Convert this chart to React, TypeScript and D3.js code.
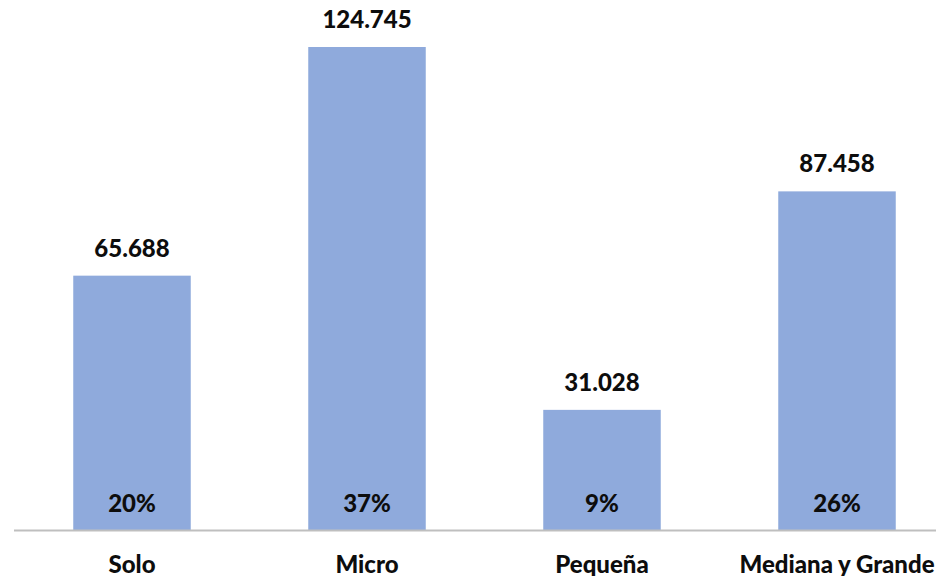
import React from "react";
import * as d3 from "d3";

const categories = ["Solo", "Micro", "Pequeña", "Mediana y Grande"];
const values = [65688, 124745, 31028, 87458];
const valueLabels = ["65.688", "124.745", "31.028", "87.458"];
const shareLabels = ["20%", "37%", "9%", "26%"];

const W = 936;
const H = 576;
const FONT = "Lato, 'Open Sans', sans-serif";

export default function App() {
  const x = d3
    .scaleBand<string>()
    .domain(categories)
    .range([14.5, 954.5])
    .paddingInner(0.5)
    .paddingOuter(0.25);
  const y = d3.scaleLinear().domain([0, 124745]).range([530, 47]);

  return (
    <svg
      width={W}
      height={H}
      style={{ position: "absolute", left: 0, top: 0, display: "block", background: "#fff" }}
    >
      {categories.map((c, i) => {
        const bx = x(c)!;
        const bw = x.bandwidth();
        const cx = bx + bw / 2;
        return (
          <g key={c}>
            <rect x={bx} y={y(values[i])} width={bw} height={y(0) - y(values[i])} fill="#8FAADC" />
            <text
              x={cx}
              y={y(values[i]) - 19}
              textAnchor="middle"
              fontFamily={FONT}
              fontWeight={900}
              fontSize={24}
              fill="#0d0d0d"
            >
              {valueLabels[i]}
            </text>
            <text
              x={cx}
              y={512}
              textAnchor="middle"
              fontFamily={FONT}
              fontWeight={900}
              fontSize={24}
              fill="#0d0d0d"
            >
              {shareLabels[i]}
            </text>
            <text
              x={cx}
              y={573}
              textAnchor="middle"
              fontFamily={FONT}
              fontWeight={900}
              fontSize={24}
              fill="#0d0d0d"
            >
              {c}
            </text>
          </g>
        );
      })}
      <line x1={14} x2={W} y1={530.5} y2={530.5} stroke="#BFBFBF" strokeWidth={2} />
    </svg>
  );
}
